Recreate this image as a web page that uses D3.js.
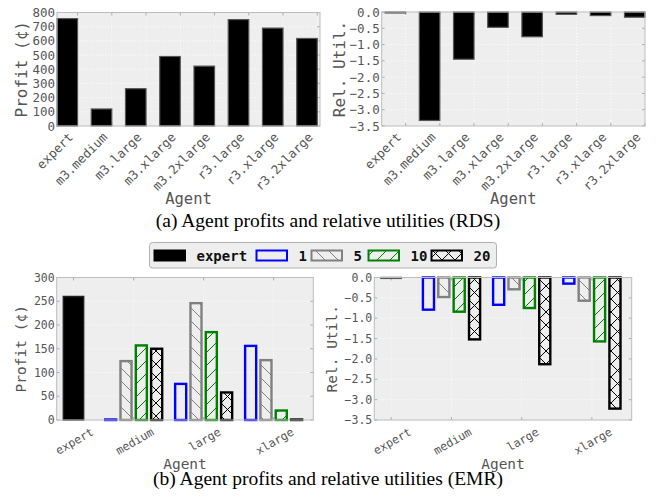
<!DOCTYPE html>
<html>
<head>
<meta charset="utf-8">
<script src="https://cdn.jsdelivr.net/npm/d3@7"></script>
<style>
  html, body { margin: 0; padding: 0; background: #fff; }
  svg { display: block; }
  .mono { font-family: "DejaVu Sans Mono", monospace; }
</style>
</head>
<body>
<svg id="fig" width="656" height="502"></svg>
<script>
// ---- RDS: profits and relative utilities per agent ----
const rdsAgents = ["expert", "m3.medium", "m3.large", "m3.xlarge", "m3.2xlarge", "r3.large", "r3.xlarge", "r3.2xlarge"];
const rdsProfit = [757, 120, 263, 490, 422, 750, 690, 617];
const rdsRelUtil = [-0.03, -3.33, -1.45, -0.47, -0.76, -0.07, -0.11, -0.16];
const rdsProfitTicks = [0, 100, 200, 300, 400, 500, 600, 700, 800];
const utilTicks = [0, -0.5, -1.0, -1.5, -2.0, -2.5, -3.0, -3.5];

// ---- EMR: expert plus four series over three instance sizes ----
const emrGroups = ["expert", "medium", "large", "xlarge"];
const emrSeries = ["1", "5", "10", "20"];
const emrExpertProfit = 260;
const emrExpertUtil = -0.02;
const emrProfit1 = [1, 76, 156];
const emrProfit5 = [124, 246, 126];
const emrProfit10 = [157, 185, 20];
const emrProfit20 = [150, 58, 1];
const emrUtil1 = [-0.79, -0.67, -0.15];
const emrUtil5 = [-0.48, -0.29, -0.57];
const emrUtil10 = [-0.84, -0.75, -1.57];
const emrUtil20 = [-1.52, -2.13, -3.22];
const emrProfitTicks = [0, 50, 100, 150, 200, 250, 300];

const svg = d3.select("#fig");
const defs = svg.append("defs");

const BG = "#eeeeee", FRAME = "#bcbcbc", TXT = "#555555";
const MONO = "DejaVu Sans Mono, monospace";

// hatch patterns for the EMR series
function hatch(id, color, kind) {
  const s = 13;
  const p = defs.append("pattern").attr("id", id)
    .attr("patternUnits", "userSpaceOnUse").attr("width", s).attr("height", s);
  const g = p.append("g").attr("stroke", color).attr("stroke-width", 1);
  if (kind === "/" || kind === "x") {
    g.append("line").attr("x1", -1).attr("y1", s + 1).attr("x2", s + 1).attr("y2", -1);
    g.append("line").attr("x1", -1).attr("y1", 1).attr("x2", 1).attr("y2", -1);
    g.append("line").attr("x1", s - 1).attr("y1", s + 1).attr("x2", s + 1).attr("y2", s - 1);
  }
  if (kind === "\\" || kind === "x") {
    g.append("line").attr("x1", -1).attr("y1", -1).attr("x2", s + 1).attr("y2", s + 1);
    g.append("line").attr("x1", s - 1).attr("y1", -1).attr("x2", s + 1).attr("y2", 1);
    g.append("line").attr("x1", -1).attr("y1", s - 1).attr("x2", 1).attr("y2", s + 1);
  }
}
hatch("h5", "#808080", "\\");
hatch("h10", "#008000", "/");
hatch("h20", "#000000", "x");

const seriesStyle = {
  "1":  { stroke: "#0000ff", fill: "none" },
  "5":  { stroke: "#808080", fill: "url(#h5)" },
  "10": { stroke: "#008000", fill: "url(#h10)" },
  "20": { stroke: "#000000", fill: "url(#h20)" }
};

// common axes frame: background, dotted grid, inward ticks, border, y labels
function frame(g, x, y, xTicks, yTicks, yFmt, fs) {
  const [x0, x1] = x.range(), [yb, yt] = y.range();
  g.append("rect").attr("x", x0).attr("y", yt).attr("width", x1 - x0).attr("height", yb - yt).attr("fill", BG);
  const grid = g.append("g").attr("stroke", "#ffffff").attr("stroke-width", 0.9).attr("stroke-dasharray", "1,2");
  yTicks.forEach(t => grid.append("line").attr("x1", x0).attr("x2", x1).attr("y1", y(t)).attr("y2", y(t)));
  xTicks.forEach(t => grid.append("line").attr("y1", yt).attr("y2", yb).attr("x1", x(t)).attr("x2", x(t)));
  const tk = g.append("g").attr("stroke", "#9a9a9a").attr("stroke-width", 0.8);
  yTicks.forEach(t => {
    tk.append("line").attr("x1", x0).attr("x2", x0 + 3).attr("y1", y(t)).attr("y2", y(t));
    tk.append("line").attr("x1", x1).attr("x2", x1 - 3).attr("y1", y(t)).attr("y2", y(t));
  });
  xTicks.forEach(t => {
    tk.append("line").attr("y1", yb).attr("y2", yb - 3).attr("x1", x(t)).attr("x2", x(t));
    tk.append("line").attr("y1", yt).attr("y2", yt + 3).attr("x1", x(t)).attr("x2", x(t));
  });
  const yAxis = d3.axisLeft(y).tickValues(yTicks).tickFormat(yFmt).tickSize(0).tickPadding(2);
  const ya = g.append("g").attr("transform", `translate(${x0},0)`).call(yAxis);
  ya.select(".domain").remove();
  ya.selectAll("text").attr("font-family", MONO).attr("font-size", fs).attr("fill", TXT);
}
function border(g, x, y) {
  const [x0, x1] = x.range(), [yb, yt] = y.range();
  g.append("rect").attr("x", x0).attr("y", yt).attr("width", x1 - x0).attr("height", yb - yt)
    .attr("fill", "none").attr("stroke", FRAME).attr("stroke-width", 1);
}
function label(text, cx, cy, fs, rot) {
  svg.append("text").attr("transform", `translate(${cx},${cy}) rotate(${rot || 0})`)
    .attr("text-anchor", "middle").attr("dy", "0.35em")
    .attr("font-family", MONO).attr("font-size", fs).attr("fill", TXT).text(text);
}
const minus = d => d3.format(".1f")(d).replace("-", "\u2212");

// ---------- (a) RDS profit ----------
function rdsPanel(values, xr, yr, domX, domY, yTicks, yFmt, ylab, ylabX) {
  const g = svg.append("g");
  const x = d3.scaleLinear().domain(domX).range(xr);
  const y = d3.scaleLinear().domain(domY).range(yr);
  const barW = 0.6;
  const tickPos = rdsAgents.map((_, i) => i + barW);
  frame(g, x, y, tickPos, yTicks, yFmt, 12.5);
  g.append("g").selectAll("rect").data(values).join("rect")
    .attr("x", (d, i) => x(i)).attr("width", x(barW) - x(0))
    .attr("y", d => y(Math.max(0, d))).attr("height", d => Math.abs(y(d) - y(0)))
    .attr("fill", "#000").attr("stroke", "#555").attr("stroke-width", 1.2);
  border(g, x, y);
  // rotated category labels, right edge at tick
  g.append("g").selectAll("text").data(rdsAgents).join("text")
    .attr("transform", (d, i) => `translate(${x(tickPos[i]) - 3.6},${yr[0] + 12}) rotate(-45)`)
    .attr("text-anchor", "end").attr("font-family", MONO).attr("font-size", 12.5).attr("fill", TXT)
    .text(d => d);
  label(ylab, ylabX, (yr[0] + yr[1]) / 2, 16, -90);
  label("Agent", (xr[0] + xr[1]) / 2, 199, 15.5);
}
rdsPanel(rdsProfit, [57, 320], [126, 12.5], [0, 7.68], [0, 800], rdsProfitTicks, d3.format("d"), "Profit (\u00a2)", 21.5);
rdsPanel(rdsRelUtil, [381.7, 645], [126, 12], [-0.1, 7.6], [-3.5, 0], utilTicks, minus, "Rel. Util.", 339);

// ---------- (b) EMR ----------
const groupCenter = [0.24, 1.1, 2.1, 3.1];
const barPitch = 0.219, barWidth = 0.158, expertWidth = 0.29;
function emrPanel(expertVal, seriesVals, xr, yr, domY, yTicks, yFmt, ylab, ylabX) {
  const g = svg.append("g");
  const x = d3.scaleLinear().domain([0, 3.667]).range(xr);
  const y = d3.scaleLinear().domain(domY).range(yr);
  frame(g, x, y, groupCenter, yTicks, yFmt, 11.5);
  g.append("rect")
    .attr("x", x(groupCenter[0] - expertWidth / 2)).attr("width", x(expertWidth) - x(0))
    .attr("y", y(Math.max(0, expertVal))).attr("height", Math.abs(y(expertVal) - y(0)))
    .attr("fill", "#000").attr("stroke", expertVal < 0 ? "#555" : "#222").attr("stroke-width", 1.5);
  emrSeries.forEach((s, k) => {
    const st = seriesStyle[s];
    g.append("g").selectAll("rect").data(seriesVals[k]).join("rect")
      .attr("x", (d, j) => x(groupCenter[j + 1] + (k - 1.5) * barPitch - barWidth / 2))
      .attr("width", x(barWidth) - x(0))
      .attr("y", d => y(Math.max(0, d))).attr("height", d => Math.abs(y(d) - y(0)))
      .attr("fill", st.fill).attr("stroke", st.stroke).attr("stroke-width", 2.4);
  });
  border(g, x, y);
  const fs = 11.5;
  const lab = g.append("g");
  emrGroups.forEach((name, i) => {
    const t = lab.append("text").attr("text-anchor", "middle").attr("dy", "0.35em")
      .attr("font-family", MONO).attr("font-size", fs).attr("fill", TXT).text(name);
    const L = t.node().getComputedTextLength();
    const h = fs * 1.16;
    const bh = L * 0.5 + h * Math.cos(Math.PI / 6);
    t.attr("transform", `translate(${x(groupCenter[i]) + 1},${yr[0] + 5 + bh / 2}) rotate(-30)`);
  });
  label(ylab, ylabX, (yr[0] + yr[1]) / 2, 14.5, -90);
  label("Agent", (xr[0] + xr[1]) / 2, 464, 14.5);
}
emrPanel(emrExpertProfit, [emrProfit1, emrProfit5, emrProfit10, emrProfit20],
  [56.7, 313.3], [420, 277.5], [0, 300], emrProfitTicks, d3.format("d"), "Profit (\u00a2)", 21);
emrPanel(emrExpertUtil, [emrUtil1, emrUtil5, emrUtil10, emrUtil20],
  [374.3, 631.7], [420, 277.5], [-3.5, 0], utilTicks, minus, "Rel. Util.", 332);

// ---------- legend ----------
const leg = svg.append("g");
leg.append("rect").attr("x", 149.5).attr("y", 242.5).attr("width", 347).attr("height", 25.5)
  .attr("rx", 3).attr("fill", "#eeeeee").attr("stroke", "#b0b0b0").attr("stroke-width", 1);
const legEntries = ["expert"].concat(emrSeries);
const patchX = [154.5, 256.5, 311.5, 368.5, 431.5];
legEntries.forEach((name, i) => {
  const st = name === "expert" ? { stroke: "#000", fill: "#000" } : seriesStyle[name];
  leg.append("rect").attr("x", patchX[i]).attr("y", 250.5).attr("width", 30.5).attr("height", 10)
    .attr("fill", st.fill).attr("stroke", st.stroke).attr("stroke-width", 2);
  leg.append("text").attr("x", patchX[i] + 42).attr("y", 260.5)
    .attr("font-family", MONO).attr("font-weight", "bold").attr("font-size", 14).attr("fill", "#111")
    .text(name);
});

// ---------- captions ----------
const cap = (t, y) => svg.append("text").attr("x", 328).attr("y", y).attr("text-anchor", "middle")
  .attr("font-family", "Liberation Serif, Times New Roman, serif").attr("font-size", 19.5).attr("fill", "#000").text(t);
cap("(a) Agent profits and relative utilities (RDS)", 227);
cap("(b) Agent profits and relative utilities (EMR)", 485);
</script>
</body>
</html>
